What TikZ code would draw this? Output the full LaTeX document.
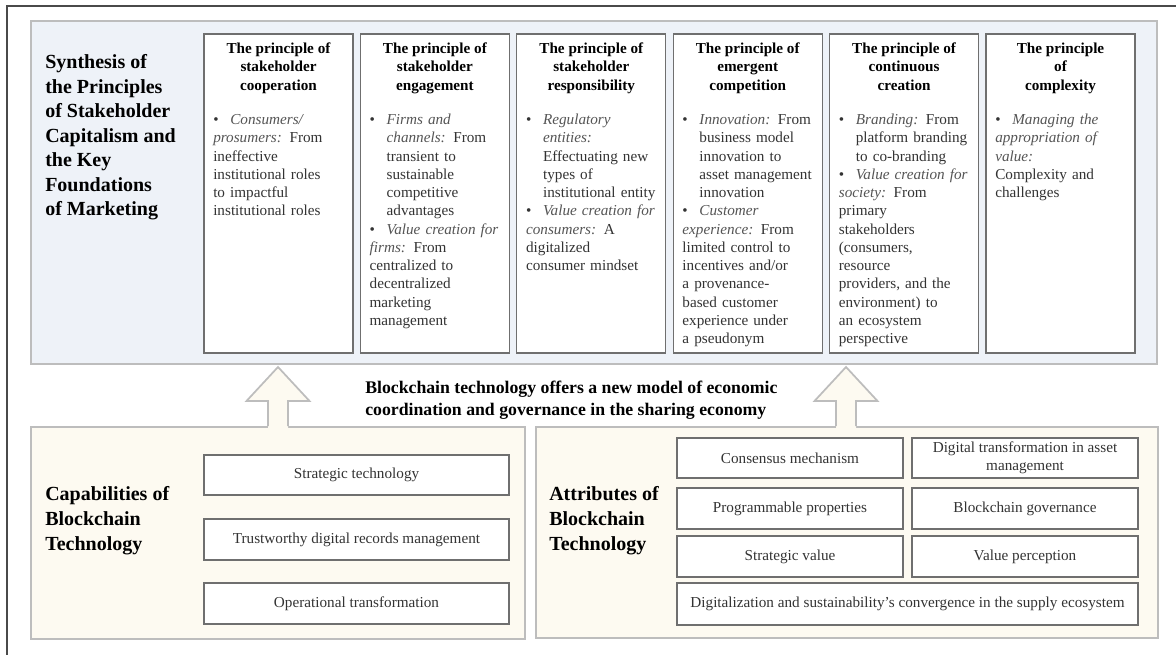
\documentclass[tikz,border=0pt]{standalone}
\usepackage{fontspec}
\setmainfont{Liberation Serif}
\usetikzlibrary{calc}

\definecolor{skyfill}{HTML}{EEF2F8}
\definecolor{creamfill}{HTML}{FDFAF1}
\definecolor{panelline}{HTML}{BDBDBD}
\definecolor{boxline}{HTML}{6F6F6F}
\definecolor{frameline}{HTML}{4A4A4A}
\definecolor{bodytxt}{HTML}{333333}
\definecolor{leadtxt}{HTML}{555555}

\newcommand{\pxu}{0.75pt}
\newcommand{\pfirst}{\noindent\hangindent=12.75pt\hangafter=1\hbox to 12.75pt{\textbullet\hfil}\ignorespaces}
\newcommand{\pbul}{\par\pfirst}
\newcommand{\leadin}[1]{{\color{leadtxt}\itshape #1}}

\begin{document}
\begin{tikzpicture}[x=\pxu,y=-\pxu,
  panel/.style={draw=panelline,line width=1.3pt,inner sep=0pt},
  pbox/.style={draw=boxline,fill=white,line width=0.8pt,inner sep=0pt,
    minimum width=149*\pxu,minimum height=319*\pxu},
  phead/.style={anchor=base,align=center,inner sep=0pt,
    font=\bfseries\fontsize{11.4}{13.9}\selectfont},
  pbody/.style={anchor=base west,text width=138*\pxu,align=left,inner sep=0pt,
    text=bodytxt,font=\fontsize{11.4}{13.7}\selectfont},
  sbox/.style={draw=boxline,fill=white,line width=0.8pt,inner sep=0pt,
    align=center,text=bodytxt,font=\fontsize{11.4}{13.9}\selectfont},
  bigtitle/.style={anchor=base west,align=left,inner sep=0pt,
    font=\bfseries\fontsize{15}{18.4}\selectfont},
  uparrow/.style={draw=panelline,line width=1.3pt,line join=miter}]
\useasboundingbox (0,0) rectangle (1176,655);
\draw[frameline,line width=0.9pt] (7,655) -- (7,6) -- (1176,6);

% upper part
\node[panel,fill=skyfill,minimum width=1126*\pxu,minimum height=343*\pxu]
  (synth) at (594,192.5) {};
\node[bigtitle] (synthtitle) at (45,216) {Synthesis of\\the Principles\\of Stakeholder\\Capitalism and\\the Key\\Foundations\\of Marketing};

\node[pbox] (coop) at (278.5,193.5) {};
\node[phead] (cooph) at (coop.north |- 0,90.1) {The principle of\\stakeholder\\cooperation};
\node[pbody] (coopb) at (213,124.5) {%
  \pfirst\leadin{Consumers/\newline prosumers:} From\newline ineffective\newline institutional roles\newline to impactful\newline institutional roles};

\node[pbox] (engage) at (434.9,193.5) {};
\node[phead] (engageh) at (engage.north |- 0,90.1) {The principle of\\stakeholder\\engagement};
\node[pbody] (engageb) at (369.4,124.5) {%
  \pfirst\leadin{Firms and\newline channels:} From\newline transient to\newline sustainable\newline competitive\newline advantages
  \pbul\leadin{Value creation for\newline firms:} From\newline centralized to\newline decentralized\newline marketing\newline management};

\node[pbox] (resp) at (591.3,193.5) {};
\node[phead] (resph) at (resp.north |- 0,90.1) {The principle of\\stakeholder\\responsibility};
\node[pbody] (respb) at (525.8,124.5) {%
  \pfirst\leadin{Regulatory\newline entities:}\newline Effectuating new\newline types of\newline institutional entity
  \pbul\leadin{Value creation for\newline consumers:} A\newline digitalized\newline consumer mindset};

\node[pbox] (emerg) at (747.7,193.5) {};
\node[phead] (emergh) at (emerg.north |- 0,90.1) {The principle of\\emergent\\competition};
\node[pbody] (emergb) at (682.2,124.5) {%
  \pfirst\leadin{Innovation:} From\newline business model\newline innovation to\newline asset management\newline innovation
  \pbul\leadin{Customer\newline experience:} From\newline limited control to\newline incentives and/or\newline a provenance-\newline based customer\newline experience under\newline a pseudonym};

\node[pbox] (contin) at (904.1,193.5) {};
\node[phead] (continh) at (contin.north |- 0,90.1) {The principle of\\continuous\\creation};
\node[pbody] (continb) at (838.6,124.5) {%
  \pfirst\leadin{Branding:} From\newline platform branding\newline to co-branding
  \pbul\leadin{Value creation for\newline society:} From\newline primary\newline stakeholders\newline (consumers,\newline resource\newline providers, and the\newline environment) to\newline an ecosystem\newline perspective};

\node[pbox] (compl) at (1060.5,193.5) {};
\node[phead] (complh) at (compl.north |- 0,90.1) {The principle\\of\\complexity};
\node[pbody] (complb) at (995,124.5) {%
  \pfirst\leadin{Managing the\newline appropriation of\newline value:}\newline Complexity and\newline challenges};

% lower part
\node[panel,fill=creamfill,minimum width=494*\pxu,minimum height=212*\pxu]
  (capab) at (278,533) {};
\node[panel,fill=creamfill,minimum width=622*\pxu,minimum height=211*\pxu]
  (attrib) at (847,532.5) {};

\node[anchor=base west,align=left,inner sep=0pt,
  font=\bfseries\fontsize{13.3}{16.1}\selectfont] (bcnote) at (365,415)
  {Blockchain technology offers a new model of economic\\coordination and governance in the sharing economy};

\foreach \ax/\nm in {278/capab,846/attrib}{
  \coordinate (tip\nm) at (\ax,367);
  \fill[creamfill] (\ax-10,429) -- (\ax-10,401) -- (\ax-31.5,401) -- (tip\nm)
    -- (\ax+31.5,401) -- (\ax+10,401) -- (\ax+10,429) -- cycle;
  \draw[uparrow] (\ax-10,0 |- \nm.north) -- (\ax-10,401) -- (\ax-31.5,401) -- (tip\nm)
    -- (\ax+31.5,401) -- (\ax+10,401) -- (\ax+10,0 |- \nm.north);
}

\node[bigtitle] (capabtitle) at (45,550) {Capabilities of\\Blockchain\\Technology};
\node[sbox,minimum width=305*\pxu,minimum height=40*\pxu] (strtech) at (356.5,475) {Strategic technology};
\node[sbox,minimum width=305*\pxu,minimum height=41*\pxu] (records) at (356.5,539.5) {Trustworthy digital records management};
\node[sbox,minimum width=305*\pxu,minimum height=41*\pxu] (operat) at (356.5,603.5) {Operational transformation};

\node[bigtitle] (attribtitle) at (549,550) {Attributes of\\Blockchain\\Technology};
\node[sbox,minimum width=226*\pxu,minimum height=40*\pxu] (consens) at (790,458) {Consensus mechanism};
\node[sbox,minimum width=226*\pxu,minimum height=40*\pxu] (assetdt) at (1025,458) {Digital transformation in asset\\management};
\node[sbox,minimum width=226*\pxu,minimum height=41*\pxu] (program) at (790,508.5) {Programmable properties};
\node[sbox,minimum width=226*\pxu,minimum height=41*\pxu] (govern) at (1025,508.5) {Blockchain governance};
\node[sbox,minimum width=226*\pxu,minimum height=41*\pxu] (stratval) at (790,556.5) {Strategic value};
\node[sbox,minimum width=226*\pxu,minimum height=41*\pxu] (valperc) at (1025,556.5) {Value perception};
\node[sbox,minimum width=461*\pxu,minimum height=42*\pxu] (digsus) at (907.5,604) {Digitalization and sustainability's convergence in the supply ecosystem};
\end{tikzpicture}
\end{document}
